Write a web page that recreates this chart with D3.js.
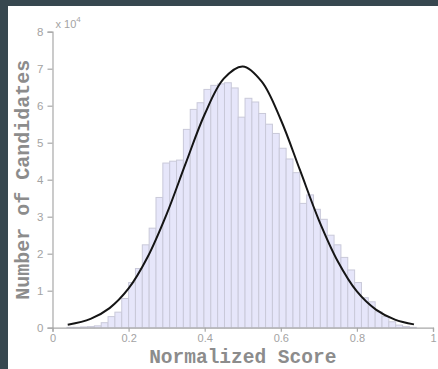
<!DOCTYPE html>
<html>
<head>
<meta charset="utf-8">
<script src="https://cdn.jsdelivr.net/npm/d3@7"></script>
<style>
  html, body { margin: 0; padding: 0; background: #37474f; }
  svg { display: block; }
</style>
</head>
<body>
<svg id="chart" width="438" height="369"></svg>
<script>
// Histogram bins: left edge of each bin (normalized score) and candidate counts
const binWidth = 0.018;
const binLeft = [
  0.038, 0.056, 0.074, 0.092, 0.110, 0.128, 0.146, 0.164, 0.182, 0.200,
  0.218, 0.236, 0.254, 0.272, 0.290, 0.308, 0.326, 0.344, 0.362, 0.380,
  0.398, 0.416, 0.434, 0.452, 0.470, 0.488, 0.506, 0.524, 0.542, 0.560,
  0.578, 0.596, 0.614, 0.632, 0.650, 0.668, 0.686, 0.704, 0.722, 0.740,
  0.758, 0.776, 0.794, 0.812, 0.830, 0.848, 0.866, 0.884, 0.902, 0.920,
  0.938
];
const binCount = [
  100, 100, 200, 300, 500, 1350, 3000, 4200, 7900, 12200,
  16000, 22400, 26900, 35200, 44500, 45000, 45300, 53600, 59000, 60800,
  64400, 65500, 65900, 66200, 64800, 56900, 62000, 61000, 57900, 55000,
  52500, 48500, 45600, 41900, 33600, 35900, 32000, 29300, 25000, 22400,
  19000, 15600, 12200, 8100, 7000, 4300, 3000, 1600, 700, 300,
  100
];

// Fitted normal curve, sampled along the score axis
const curveX = [0.04, 0.10, 0.15, 0.20, 0.25, 0.30, 0.35, 0.40, 0.45, 0.50,
                0.55, 0.60, 0.65, 0.70, 0.75, 0.80, 0.85, 0.90, 0.95];
const curveY = [800, 2400, 5300, 10600, 19100, 30700, 44400, 57700, 67300, 70600,
                66500, 56200, 42700, 29100, 17900, 9800, 4900, 2200, 900];

// Axis ticks
const xTicks = [0, 0.2, 0.4, 0.6, 0.8, 1];
const yTicks = [0, 10000, 20000, 30000, 40000, 50000, 60000, 70000, 80000];

const svg = d3.select("#chart");
const W = 438, H = 369;

svg.append("rect").attr("x", 0).attr("y", 0).attr("width", W).attr("height", H).attr("fill", "#37474f");
svg.append("rect").attr("x", 8).attr("y", 6).attr("width", W - 8).attr("height", H - 6).attr("fill", "#ffffff");

const x = d3.scaleLinear().domain([0, 1]).range([52.5, 433]);
const y = d3.scaleLinear().domain([0, 80000]).range([327.7, 31.7]);

// Bars
svg.append("g")
  .selectAll("rect")
  .data(binLeft)
  .join("rect")
  .attr("x", (d) => x(d))
  .attr("width", x(binWidth) - x(0))
  .attr("y", (d, i) => y(binCount[i]))
  .attr("height", (d, i) => y(0) - y(binCount[i]))
  .attr("fill", "#e6e6fa")
  .attr("stroke", "#c9c9d9")
  .attr("stroke-width", 1);

// Axes
const axisColor = "#a8a8a8";
const tickFont = "Liberation Sans, Arial, sans-serif";

const xAxis = svg.append("g")
  .attr("transform", `translate(0,${y(0)})`)
  .call(d3.axisBottom(x).tickValues(xTicks).tickSize(4).tickPadding(3)
    .tickFormat((d) => d === 0 || d === 1 ? d3.format("d")(d) : d3.format(".1f")(d)));

const yAxis = svg.append("g")
  .attr("transform", `translate(${x(0)},0)`)
  .call(d3.axisLeft(y).tickValues(yTicks).tickSize(5).tickPadding(4)
    .tickFormat((d) => d / 10000));

[xAxis, yAxis].forEach((g) => {
  g.select(".domain").attr("stroke", axisColor).attr("stroke-width", 1.2);
  g.selectAll(".tick line").attr("stroke", axisColor).attr("stroke-width", 1.2);
  g.selectAll(".tick text")
    .attr("fill", "#a3a3a3")
    .attr("font-family", tickFont)
    .attr("font-size", 11.5);
});
xAxis.selectAll(".tick text").attr("font-size", 11);

// Exponent label above the y axis
const expo = svg.append("text")
  .attr("x", x(0) + 3)
  .attr("y", 28)
  .attr("fill", "#a3a3a3")
  .attr("font-family", tickFont)
  .attr("font-size", 11);
expo.append("tspan").text("x 10");
expo.append("tspan").attr("dy", -6).attr("font-size", 8).text("4");

// Fitted curve
const line = d3.line()
  .x((d) => x(d))
  .y((d, i) => y(curveY[i]))
  .curve(d3.curveCatmullRom);

svg.append("path")
  .attr("d", line(curveX))
  .attr("fill", "none")
  .attr("stroke", "#151515")
  .attr("stroke-width", 2);

// Axis titles
const titleFont = "Liberation Mono, Courier New, monospace";
svg.append("text")
  .attr("x", (x(0) + x(1)) / 2)
  .attr("y", 363)
  .attr("text-anchor", "middle")
  .attr("font-family", titleFont)
  .attr("font-weight", "bold")
  .attr("font-size", 19.5)
  .attr("fill", "#8c8c8c")
  .text("Normalized Score");

svg.append("text")
  .attr("transform", `translate(29,${(y(0) + y(80000)) / 2}) rotate(-90)`)
  .attr("text-anchor", "middle")
  .attr("font-family", titleFont)
  .attr("font-weight", "bold")
  .attr("font-size", 20)
  .attr("fill", "#8c8c8c")
  .text("Number of Candidates");
</script>
</body>
</html>
